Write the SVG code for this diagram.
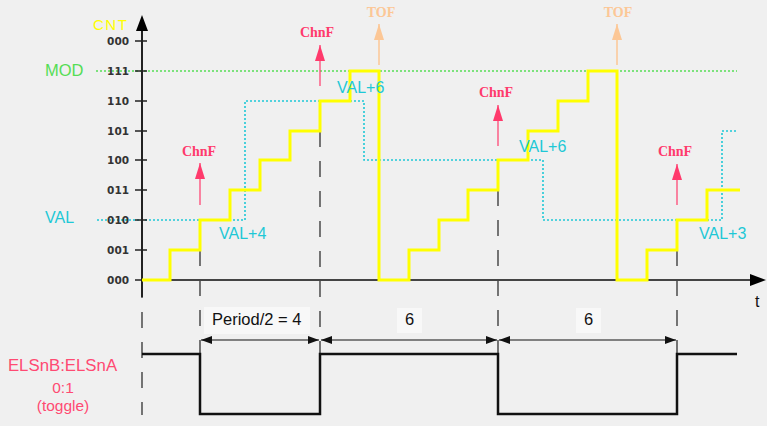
<svg xmlns="http://www.w3.org/2000/svg" width="767" height="426" viewBox="0 0 767 426">
<style>
.tick{font-family:"DejaVu Sans",sans-serif;font-weight:bold;font-size:10.5px;fill:#333;text-anchor:end}
.sans{font-family:"Liberation Sans",Arial,sans-serif}
.val{font-family:"Liberation Sans",Arial,sans-serif;font-size:16px;fill:#1ec8d6}
.chnf{font-family:"Liberation Serif","Times New Roman",serif;font-weight:bold;font-size:14px;fill:#ff3a6c;text-anchor:middle}
.tof{font-family:"Liberation Serif","Times New Roman",serif;font-weight:bold;font-size:14px;fill:#fcc796;text-anchor:middle}
.dim{font-family:"Liberation Sans",Arial,sans-serif;font-size:16.5px;fill:#111}
.els{font-family:"Liberation Sans",Arial,sans-serif;font-size:16.8px;fill:#ff4a72;text-anchor:middle}
.els2{font-family:"Liberation Sans",Arial,sans-serif;font-size:15.5px;fill:#ff4a72;text-anchor:middle}
.dash{stroke:#222;stroke-width:1.2;stroke-dasharray:16 14;fill:none}
</style>
<defs>
<marker id="ah" markerUnits="userSpaceOnUse" markerWidth="12" markerHeight="8" refX="11" refY="4" orient="auto-start-reverse"><path d="M0,0 L11,4 L0,8 z" fill="#111"/></marker>
<marker id="chn" markerUnits="userSpaceOnUse" markerWidth="16" markerHeight="10" refX="16" refY="5" orient="auto"><path d="M0,0 L16,5 L0,10 z" fill="#ff3a6c"/></marker>
<marker id="tofm" markerUnits="userSpaceOnUse" markerWidth="16" markerHeight="10" refX="16" refY="5" orient="auto"><path d="M0,0 L16,5 L0,10 z" fill="#fcc796"/></marker>
</defs>
<rect width="767" height="426" fill="#f0f0f0"/>

<g id="guides">
<line class="dash" x1="142" y1="282" x2="142" y2="415"/>
<line class="dash" x1="200" y1="250" x2="200" y2="415"/>
<line class="dash" x1="320" y1="131" x2="320" y2="415"/>
<line class="dash" x1="498" y1="190" x2="498" y2="415"/>
<line class="dash" x1="677" y1="250" x2="677" y2="415"/>
</g>

<g id="levels">
<line x1="96" y1="71" x2="737" y2="71" stroke="#55dd55" stroke-width="1.5" stroke-dasharray="2 2"/>
<path d="M97,220 H245 V101 H364 V160 H543 V220 H722 V131 H737" fill="none" stroke="#1ec8d6" stroke-width="1.6" stroke-dasharray="2 2"/>
<text x="45" y="76" class="sans" font-size="16.5" fill="#55dd55">MOD</text>
<text x="45" y="223" class="val">VAL</text>
</g>

<g id="axes">
<line x1="142" y1="30" x2="142" y2="297" stroke="#222" stroke-width="2"/>
<path d="M142,15 L136,31 L148,31 z" fill="#000"/>
<line x1="142" y1="280" x2="752" y2="280" stroke="#444" stroke-width="2"/>
<path d="M766,280 L750,274 L750,286 z" fill="#000"/>
<g stroke="#222" stroke-width="1.5">
<line x1="135" y1="41" x2="147" y2="41"/>
<line x1="135" y1="71" x2="147" y2="71"/>
<line x1="135" y1="101" x2="147" y2="101"/>
<line x1="135" y1="131" x2="147" y2="131"/>
<line x1="135" y1="160" x2="147" y2="160"/>
<line x1="135" y1="190" x2="147" y2="190"/>
<line x1="135" y1="220" x2="147" y2="220"/>
<line x1="135" y1="250" x2="147" y2="250"/>
<line x1="135" y1="280" x2="147" y2="280"/>
</g>
<text x="129" y="45" class="tick">000</text>
<text x="129" y="75" class="tick">111</text>
<text x="129" y="105" class="tick">110</text>
<text x="129" y="135" class="tick">101</text>
<text x="129" y="164" class="tick">100</text>
<text x="129" y="194" class="tick">011</text>
<text x="129" y="224" class="tick">010</text>
<text x="129" y="254" class="tick">001</text>
<text x="129" y="284" class="tick">000</text>
<text x="93" y="30" class="sans" font-size="15" letter-spacing="1.5" fill="#ffff00">CNT</text>
<text x="755" y="307" class="sans" font-size="16" fill="#111">t</text>
</g>

<g id="counter">
<path d="M142,280 H170 V250 H200 V220 H230 V190 H260 V160 H290 V131 H320 V101 H350 V71 H379 V280 H409 V250 H439 V220 H468 V190 H498 V160 H528 V131 H558 V101 H588 V71 H617 V280 H647 V250 H677 V220 H707 V190 H740" fill="none" stroke="#ffff00" stroke-width="3"/>
</g>

<g id="val-labels">
<text x="219" y="239" class="val">VAL+4</text>
<text x="337" y="93" class="val">VAL+6</text>
<text x="519" y="152" class="val">VAL+6</text>
<text x="699" y="239" class="val">VAL+3</text>
</g>

<g id="flags">
<line x1="200" y1="205" x2="200" y2="163" stroke="#ff3a6c" stroke-width="1.2" marker-end="url(#chn)"/>
<text x="199" y="156" class="chnf">ChnF</text>
<line x1="320" y1="86" x2="320" y2="45" stroke="#ff3a6c" stroke-width="1.2" marker-end="url(#chn)"/>
<text x="317" y="37" class="chnf">ChnF</text>
<line x1="498" y1="146" x2="498" y2="105" stroke="#ff3a6c" stroke-width="1.2" marker-end="url(#chn)"/>
<text x="496" y="97" class="chnf">ChnF</text>
<line x1="677" y1="205" x2="677" y2="164" stroke="#ff3a6c" stroke-width="1.2" marker-end="url(#chn)"/>
<text x="675" y="156" class="chnf">ChnF</text>
<line x1="379" y1="65" x2="379" y2="24" stroke="#fcc796" stroke-width="1.5" marker-end="url(#tofm)"/>
<text x="381" y="17" class="tof">TOF</text>
<line x1="617" y1="65" x2="617" y2="24" stroke="#fcc796" stroke-width="1.5" marker-end="url(#tofm)"/>
<text x="618" y="17" class="tof">TOF</text>
</g>

<g id="output">
<path d="M142,354 H200 V414 H320 V354 H498 V414 H677 V354 H737" fill="none" stroke="#111" stroke-width="2.5"/>
<text x="62.5" y="371" class="els">ELSnB:ELSnA</text>
<text x="63" y="392.5" class="els2">0:1</text>
<text x="63" y="411" class="els2">(toggle)</text>
</g>

<g id="dimensions">
<line x1="201" y1="340" x2="319" y2="340" stroke="#111" stroke-width="1.2" marker-start="url(#ah)" marker-end="url(#ah)"/>
<line x1="321" y1="340" x2="497" y2="340" stroke="#111" stroke-width="1.2" marker-start="url(#ah)" marker-end="url(#ah)"/>
<line x1="499" y1="340" x2="676" y2="340" stroke="#111" stroke-width="1.2" marker-start="url(#ah)" marker-end="url(#ah)"/>
<rect x="204" y="307" width="106" height="27" fill="#f8f8f8"/>
<text x="212" y="325" class="dim">Period/2 = 4</text>
<rect x="397" y="308" width="25" height="25" fill="#f8f8f8"/>
<text x="409.5" y="325" class="dim" text-anchor="middle">6</text>
<rect x="576" y="308" width="25" height="25" fill="#f8f8f8"/>
<text x="588.5" y="325" class="dim" text-anchor="middle">6</text>
</g>
</svg>
